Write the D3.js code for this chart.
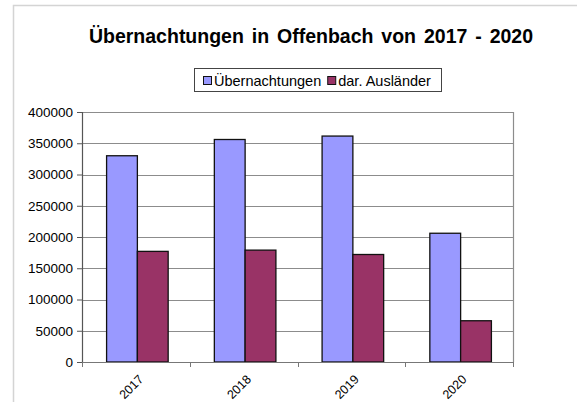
<!DOCTYPE html>
<html>
<head>
<meta charset="utf-8">
<script src="https://cdn.jsdelivr.net/npm/d3@7"></script>
<style>
  html, body { margin: 0; padding: 0; background: #fff; }
  svg { display: block; font-family: "Liberation Sans", Arial, sans-serif; }
</style>
</head>
<body>
<svg id="chart" width="577" height="402"></svg>
<script>
// data
const years = ["2017", "2018", "2019", "2020"];
const seriesNames = ["Übernachtungen", "dar. Ausländer"];
const uebernachtungen = [330000, 356000, 361500, 206000];
const auslaender = [177000, 179000, 172000, 66000];
const yTicks = [0, 50000, 100000, 150000, 200000, 250000, 300000, 350000, 400000];

const colors = ["#9999ff", "#993366"];
const chartTitle = "Übernachtungen in Offenbach von 2017 - 2020";

const svg = d3.select("#chart");
const W = 577, H = 402;

// plot area
const plotLeft = 82, plotRight = 513, plotTop = 112, plotBottom = 362;

// outer chart frame (light gray)
svg.append("path")
  .attr("d", `M13.5,${H} V5.5 H${W}`)
  .attr("fill", "none")
  .attr("stroke", "#d4d4d4")
  .attr("stroke-width", 1.5);

// title
svg.append("text")
  .attr("x", 311)
  .attr("y", 43)
  .attr("text-anchor", "middle")
  .attr("font-size", 19.5)
  .attr("font-weight", "bold")
  .attr("word-spacing", 2.5)
  .attr("fill", "#000")
  .text(chartTitle);

const x = d3.scaleBand().domain(years).range([plotLeft, plotRight]);
const inner = d3.scaleBand().domain(seriesNames).range([0, x.bandwidth()])
  .paddingInner(0).paddingOuter(0.75);
const y = d3.scaleLinear().domain([0, 400000]).range([plotBottom, plotTop]);

// gridlines
svg.append("g")
  .selectAll("line")
  .data(yTicks.filter(d => d > 0))
  .join("line")
  .attr("x1", plotLeft).attr("x2", plotRight)
  .attr("y1", d => Math.round(y(d)) + 0.5)
  .attr("y2", d => Math.round(y(d)) + 0.5)
  .attr("stroke", "#8c8c8c")
  .attr("stroke-width", 1.2);

// right border
svg.append("line")
  .attr("x1", plotRight + 0.5).attr("x2", plotRight + 0.5)
  .attr("y1", plotTop).attr("y2", plotBottom)
  .attr("stroke", "#8c8c8c")
  .attr("stroke-width", 1.2);

// bars
const rows = years.map((yr, i) => ({ year: yr, values: [uebernachtungen[i], auslaender[i]] }));
const groups = svg.append("g")
  .selectAll("g")
  .data(rows)
  .join("g")
  .attr("transform", d => `translate(${x(d.year) + 1.5},0)`);

groups.selectAll("rect")
  .data(d => d.values.map((v, j) => ({ key: seriesNames[j], value: v, idx: j })))
  .join("rect")
  .attr("x", d => inner(d.key))
  .attr("y", d => y(d.value))
  .attr("width", inner.bandwidth())
  .attr("height", d => y(0) - y(d.value))
  .attr("fill", d => colors[d.idx])
  .attr("stroke", "#111")
  .attr("stroke-width", 1.3);

// y axis
const yAxis = svg.append("g")
  .attr("transform", `translate(${plotLeft},0)`)
  .call(d3.axisLeft(y).tickValues(yTicks).tickSize(5).tickPadding(4).tickFormat(d3.format("d")));
yAxis.select(".domain").attr("stroke", "#555").attr("stroke-width", 1.2);
yAxis.selectAll(".tick line").attr("stroke", "#555");
yAxis.selectAll("text")
  .attr("font-family", "'Liberation Sans', Arial, sans-serif")
  .attr("font-size", 13.5)
  .attr("fill", "#000");

// x axis: baseline with ticks at category boundaries
svg.append("line")
  .attr("x1", plotLeft).attr("x2", plotRight)
  .attr("y1", plotBottom + 0.5).attr("y2", plotBottom + 0.5)
  .attr("stroke", "#777")
  .attr("stroke-width", 1.2);

const bounds = years.map(d => x(d)).concat([plotRight]);
svg.append("g")
  .selectAll("line")
  .data(bounds)
  .join("line")
  .attr("x1", d => Math.round(d) + 0.5).attr("x2", d => Math.round(d) + 0.5)
  .attr("y1", plotBottom).attr("y2", plotBottom + 5)
  .attr("stroke", "#777");

svg.append("g")
  .selectAll("text")
  .data(years)
  .join("text")
  .attr("transform", d => `translate(${x(d) + x.bandwidth() / 2 + 2},${plotBottom + 12}) rotate(-45)`)
  .attr("text-anchor", "end")
  .attr("dy", "0.7em")
  .attr("font-size", 12.5)
  .attr("fill", "#000")
  .text(d => d);

// legend
const legend = svg.append("g");
legend.append("rect")
  .attr("x", 194.5).attr("y", 68.5)
  .attr("width", 247).attr("height", 23)
  .attr("fill", "#fff")
  .attr("stroke", "#444");

let lx = 203;
seriesNames.forEach((name, i) => {
  legend.append("rect")
    .attr("x", lx + 0.5).attr("y", 76.5)
    .attr("width", 8).attr("height", 8)
    .attr("fill", colors[i])
    .attr("stroke", "#111");
  const t = legend.append("text")
    .attr("x", lx + 11)
    .attr("y", 86)
    .attr("font-size", 14.5)
    .attr("fill", "#000")
    .text(name);
  lx += 11 + t.node().getComputedTextLength() + 6;
});
</script>
</body>
</html>
